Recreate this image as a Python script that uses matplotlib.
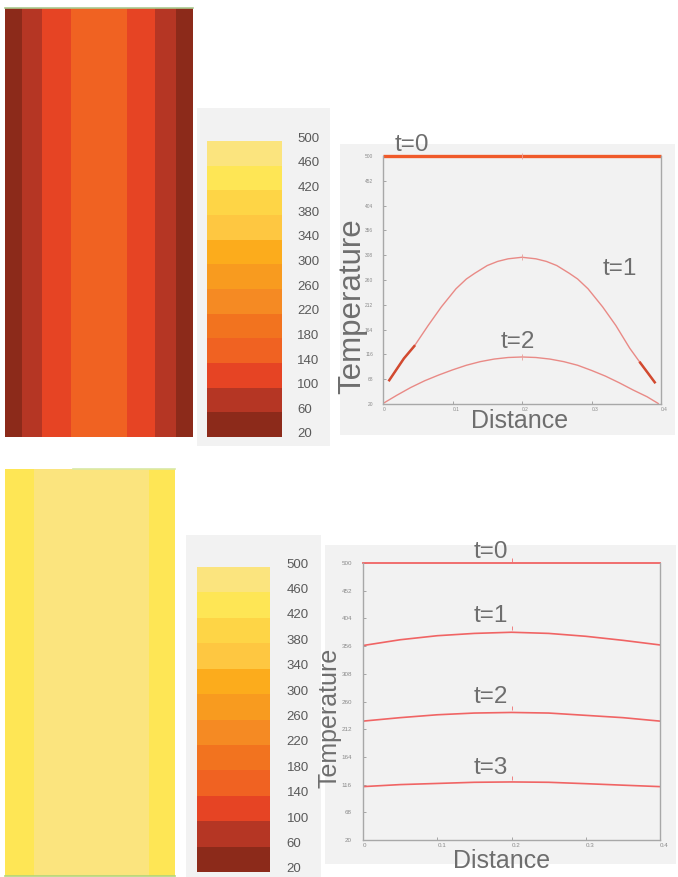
import matplotlib
matplotlib.use("Agg")
import matplotlib.pyplot as plt
import matplotlib.transforms as mtransforms
from matplotlib.colors import ListedColormap, BoundaryNorm
from matplotlib.cm import ScalarMappable

plt.rcParams["font.family"] = ["Liberation Sans", "DejaVu Sans"]

W, H = 678, 877

# ── Colour scale (temperature bands, 20..500 in steps of 40) ─────────────────
levels = [20, 60, 100, 140, 180, 220, 260, 300, 340, 380, 420, 460, 500]
band_colors = ["#8c2a1a", "#b53624", "#e64424", "#f06222", "#f2731f", "#f58a23",
               "#f89b1f", "#fcac1c", "#fec741", "#fed546", "#fee655", "#fbe47e"]
cmap = ListedColormap(band_colors)
norm = BoundaryNorm(levels, cmap.N)

# ── Rod stripes (positions along rod, 0..1, and temperature per stripe) ──────
rod1_edges = [0, 0.09, 0.197, 0.351, 0.649, 0.798, 0.910, 1.0]
rod1_temp = [40, 80, 120, 160, 120, 80, 40]
rod2_edges = [0, 0.17, 0.847, 1.0]
rod2_temp = [440, 480, 440]

# ── Profiles, top case ───────────────────────────────────────────────────────
top_t0_x = [0.0, 0.4]
top_t0_T = [500, 500]
top_t1_x = [0.009, 0.02, 0.03, 0.045, 0.065, 0.084, 0.105, 0.12, 0.132, 0.15,
            0.165, 0.18, 0.2, 0.22, 0.235, 0.25, 0.268, 0.28, 0.295, 0.316,
            0.335, 0.355, 0.37, 0.38, 0.391]
top_t1_T = [66, 88, 108, 132, 172, 208, 243, 262, 273, 288,
            296, 301, 304, 301, 296, 288, 273, 262, 243, 208,
            172, 128, 100, 82, 62]
top_t2_x = [0.0, 0.02, 0.04, 0.06, 0.08, 0.1, 0.12, 0.14, 0.16, 0.18, 0.2,
            0.22, 0.24, 0.26, 0.28, 0.3, 0.32, 0.34, 0.36, 0.38, 0.396]
top_t2_T = [21, 37, 52, 65, 76, 86, 95, 102, 107, 110, 111,
            110, 107, 102, 95, 85, 74, 61, 47, 34, 21]

# ── Profiles, bottom case ────────────────────────────────────────────────────
bot_x = [0.0, 0.05, 0.1, 0.15, 0.2, 0.25, 0.3, 0.35, 0.4]
bot_t0_T = [500, 500, 500, 500, 500, 500, 500, 500, 500]
bot_t1_T = [357, 367, 374, 378, 380, 378, 373, 366, 358]
bot_t2_T = [226, 232, 237, 240, 241, 240, 236, 232, 226]
bot_t3_T = [112.5, 116, 118, 120, 120.6, 120, 117.6, 115, 112.5]

y_ticks = [20, 68, 116, 164, 212, 260, 308, 356, 404, 452, 500]
x_ticks = [0, 0.1, 0.2, 0.3, 0.4]
x_ticklabels = ["0", "0.1", "0.2", "0.3", "0.4"]

PANEL = "#f2f2f2"
TXT = "#6e6e6e"


def rect(x0, y0, x1, y1):
    return [x0 / W, (H - y1) / H, (x1 - x0) / W, (y1 - y0) / H]


fig = plt.figure(figsize=(W / 100, H / 100), dpi=100, facecolor="white")

# gray background panels
for r in [(197, 108, 330, 446), (340, 144, 675, 435),
          (186, 535, 321, 877), (325, 545, 676, 864)]:
    bg = fig.add_axes(rect(*r), zorder=0)
    bg.set_facecolor(PANEL)
    bg.set_xticks([]); bg.set_yticks([])
    for s in bg.spines.values():
        s.set_visible(False)


def draw_rod(r, edges, temps):
    ax = fig.add_axes(rect(*r), zorder=1)
    ax.pcolormesh(edges, [0, 1], [temps], cmap=cmap, norm=norm)
    ax.set_xlim(0, 1); ax.set_ylim(0, 1)
    ax.set_axis_off()
    return ax


rod1 = draw_rod((5, 8, 193, 437), rod1_edges, rod1_temp)
rod1.axhline(1, color="#a9c98f", lw=1.2, clip_on=False)
rod2 = draw_rod((5, 469, 175, 876), rod2_edges, rod2_temp)
rod2.axhline(0, color="#b3d57a", lw=1.2, clip_on=False)
rod2.axhline(1, xmin=0.4, xmax=1, color="#d9e9a6", lw=1.2, clip_on=False)


def draw_cbar(r, pad):
    cax = fig.add_axes(rect(*r), zorder=1)
    cb = fig.colorbar(ScalarMappable(norm=norm, cmap=cmap), cax=cax, ticks=levels)
    cb.outline.set_visible(False)
    cax.tick_params(length=0, pad=pad, labelsize=9.5, colors="#5a5a5a")
    shift = mtransforms.ScaledTranslation(0, 4 / 100, fig.dpi_scale_trans)
    for lab in cax.get_yticklabels():
        lab.set_transform(lab.get_transform() + shift)
    return cb


draw_cbar((207, 141, 282, 437), 11)
draw_cbar((197, 567, 270, 872), 12)


def style_axes(ax, tick_fs, ypad):
    ax.set_facecolor("none")
    ax.set_xlim(0, 0.4)
    ax.set_ylim(20, 500)
    ax.set_yticks(y_ticks)
    ax.set_xticks(x_ticks)
    ax.set_xticklabels(x_ticklabels, ha="left")
    ax.tick_params(direction="in", length=2, width=0.6, color="#999999",
                   labelsize=tick_fs, labelcolor="#8a8a8a")
    ax.tick_params(axis="y", pad=ypad)
    ax.tick_params(axis="x", pad=2)
    ax.spines["top"].set_visible(False)
    for s in ["left", "bottom", "right"]:
        ax.spines[s].set_color("#a8a8a8")
        ax.spines[s].set_linewidth(1.0)


# ── Top plot ─────────────────────────────────────────────────────────────────
ax1 = fig.add_axes(rect(383, 156, 661, 404), zorder=2)
style_axes(ax1, 3.5, 7)
curve = "#e98a86"
ax1.plot(top_t0_x, top_t0_T, color="#f05a2a", lw=2.4, clip_on=False,
         solid_capstyle="butt")
ax1.plot(top_t1_x, top_t1_T, color=curve, lw=1.0)
ax1.plot(top_t1_x[:4], top_t1_T[:4], color="#d24a30", lw=1.8)
ax1.plot(top_t1_x[-3:], top_t1_T[-3:], color="#d24a30", lw=1.8)
ax1.plot(top_t2_x, top_t2_T, color=curve, lw=1.0)
ax1.plot([0.2, 0.2, 0.2], [500, 304, 111], ls="none", marker="|",
         ms=4, mew=0.6, color="#e9a09a", clip_on=False)

fig.text(412 / W, 1 - 145 / H, "t=0", fontsize=17.5, color=TXT, ha="center", va="center")
fig.text(620 / W, 1 - 269 / H, "t=1", fontsize=17.5, color=TXT, ha="center", va="center")
fig.text(518 / W, 1 - 342 / H, "t=2", fontsize=17.5, color=TXT, ha="center", va="center")
fig.text(352 / W, 1 - 306 / H, "Temperature", fontsize=22.5, color=TXT,
         rotation=90, ha="center", va="center")
fig.text(520 / W, 1 - 421 / H, "Distance", fontsize=18, color=TXT,
         ha="center", va="center", zorder=5)

# ── Bottom plot ──────────────────────────────────────────────────────────────
ax2 = fig.add_axes(rect(363, 563, 660, 840), zorder=2)
style_axes(ax2, 4.5, 8)
line2 = "#f06464"
ax2.plot(bot_x, bot_t0_T, color=line2, lw=1.3, clip_on=False)
ax2.plot(bot_x, bot_t1_T, color=line2, lw=1.2)
ax2.plot(bot_x, bot_t2_T, color=line2, lw=1.2)
ax2.plot(bot_x, bot_t3_T, color=line2, lw=1.2)
ax2.plot([0.2, 0.2, 0.2, 0.2], [506, 387, 248, 127], ls="none", marker="|",
         ms=3, mew=0.6, color="#f07070", clip_on=False)

fig.text(491 / W, 1 - 552 / H, "t=0", fontsize=17.5, color=TXT, ha="center", va="center")
fig.text(491 / W, 1 - 616 / H, "t=1", fontsize=17.5, color=TXT, ha="center", va="center")
fig.text(491 / W, 1 - 697 / H, "t=2", fontsize=17.5, color=TXT, ha="center", va="center")
fig.text(491 / W, 1 - 768 / H, "t=3", fontsize=17.5, color=TXT, ha="center", va="center")
fig.text(330 / W, 1 - 718 / H, "Temperature", fontsize=18, color=TXT,
         rotation=90, ha="center", va="center", zorder=5)
fig.text(502 / W, 1 - 861 / H, "Distance", fontsize=18, color=TXT,
         ha="center", va="center", zorder=5)

fig.savefig("out.png", dpi=100, facecolor="white")
